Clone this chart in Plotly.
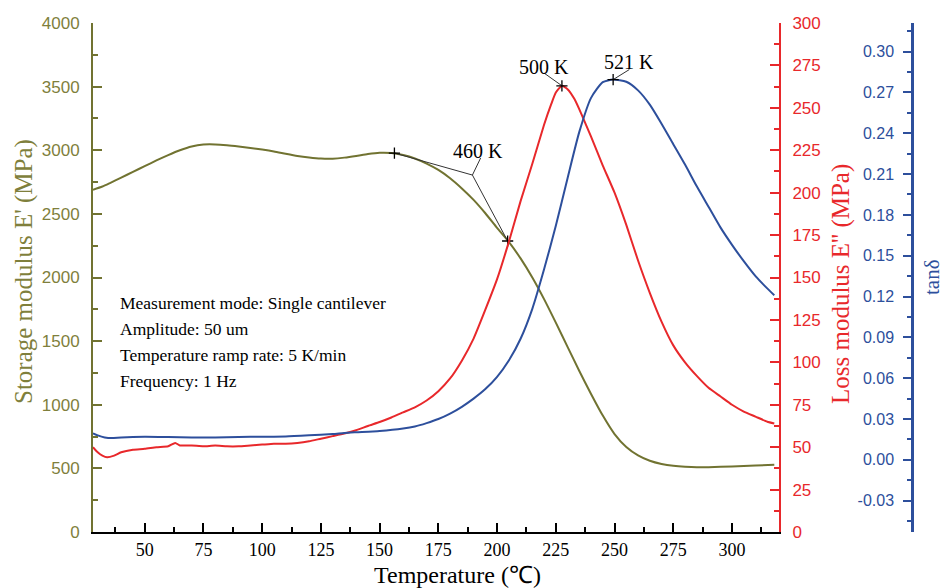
import plotly.graph_objects as go

# ---------------- data ----------------
temp_storage = [28, 32, 35, 40, 45, 50, 55, 60, 65, 70, 75, 80, 85, 90, 95, 100, 105, 110, 115, 120,
                125, 130, 135, 140, 145, 150, 155, 160, 165, 170, 175, 180, 185, 190, 195, 200, 205,
                210, 215, 220, 225, 230, 235, 240, 245, 250, 255, 260, 265, 270, 275, 280, 285, 290,
                300, 310, 318]
storage_mod = [2690, 2715, 2740, 2785, 2830, 2875, 2920, 2962, 3000, 3030, 3045, 3046, 3040, 3030,
               3018, 3005, 2990, 2972, 2955, 2943, 2935, 2934, 2942, 2955, 2970, 2980, 2978, 2962,
               2935, 2895, 2845, 2780, 2700, 2610, 2505, 2390, 2280, 2150, 2000, 1830, 1645, 1455,
               1265, 1085, 915, 770, 668, 602, 560, 535, 520, 512, 508, 509, 515, 523, 528]

temp_loss = [28, 30, 32, 34, 37, 40, 45, 50, 55, 60, 63, 65, 70, 75, 80, 85, 90, 95, 100, 105, 110,
             115, 120, 125, 130, 135, 140, 145, 150, 155, 160, 165, 170, 175, 180, 185, 190, 195,
             200, 205, 210, 215, 220, 223, 225, 227.6, 230, 233, 236, 240, 245, 250, 255, 260, 265,
             270, 275, 280, 285, 290, 295, 300, 305, 310, 315, 318]
loss_mod = [50, 47, 45, 44, 45, 47, 48.5, 49, 50, 50.5, 52.5, 51, 51, 50.5, 51, 50.5, 50.5, 51,
            51.5, 52, 52, 52.5, 53.5, 55, 56.5, 58, 60, 62.5, 64.8, 67.5, 70.5, 73.5, 77.5, 83,
            90.5, 101, 114, 131, 149, 171, 195, 217, 240, 252, 259, 263, 261, 255, 246, 233, 216,
            200, 181, 160, 141, 124, 110, 100, 92, 85, 80, 75, 71, 68, 65, 64]

temp_tan = [28, 30, 33, 36, 40, 50, 60, 70, 80, 90, 100, 110, 120, 130, 135, 140, 150, 160, 165, 170,
            175, 180, 185, 190, 195, 200, 205, 210, 215, 220, 225, 230, 235, 240, 245, 249.4, 255,
            260, 265, 270, 275, 280, 285, 290, 295, 300, 305, 310, 315, 318]
tan_delta = [0.0195, 0.018, 0.0165, 0.016, 0.0165, 0.017, 0.0168, 0.0165, 0.0165, 0.0168, 0.017,
             0.0172, 0.018, 0.019, 0.0198, 0.0203, 0.0212, 0.023, 0.0245, 0.027, 0.030, 0.034,
             0.039, 0.045, 0.052, 0.061, 0.073, 0.089, 0.111, 0.140, 0.172, 0.207, 0.241, 0.266,
             0.2775, 0.2794, 0.2778, 0.2715, 0.261, 0.247, 0.232, 0.217, 0.201, 0.186, 0.171, 0.158,
             0.146, 0.135, 0.126, 0.121]

# marked points
onset_x = [156.3, 204.5]
onset_y = [2978, 2287]
onset_label = "460 K"
onset_label_pos = (191.9, 2994)
onset_junction = (189.5, 2805)
onset_stem = (193.0, 2939)

loss_peak = (227.6, 263)
loss_label = "500 K"
loss_label_pos = (220.0, 274)
loss_stem = (220.0, 270.5)

tan_peak = (249.4, 0.2794)
tan_label = "521 K"
tan_label_pos = (256.3, 0.2926)
tan_stem = (256.3, 0.2868)

info_lines = ["Measurement mode: Single cantilever", "Amplitude: 50 um",
              "Temperature ramp rate: 5 K/min", "Frequency: 1 Hz"]

tan_ticks = [-0.03, 0.00, 0.03, 0.06, 0.09, 0.12, 0.15, 0.18, 0.21, 0.24, 0.27, 0.30]
tan_tick_text = ["-0.03", "0.00", "0.03", "0.06", "0.09", "0.12", "0.15", "0.18", "0.21",
                 "0.24", "0.27", "0.30"]
tan_minor = [-0.045, -0.015, 0.015, 0.045, 0.075, 0.105, 0.135, 0.165, 0.195, 0.225, 0.255,
             0.285, 0.315]

# ---------------- style ----------------
OLIVE = "#717331"
OLIVE_TXT = "#7f7f3c"
RED = "#e8282b"
BLUE = "#2d4f9c"
SERIF = "Liberation Serif"
SANS = "Liberation Sans"

W, H = 943, 588
ML, MR, MT, MB = 93, 5, 23, 56
PW = W - ML - MR
PH = H - MT - MB


def px_to_paper(px, py):
    return (px - ML) / PW, (H - MB - py) / PH


fig = go.Figure()

fig.add_trace(go.Scatter(x=temp_storage, y=storage_mod, mode="lines",
                         line=dict(color=OLIVE, width=2, shape="spline", smoothing=0.6),
                         yaxis="y", showlegend=False))
fig.add_trace(go.Scatter(x=temp_loss, y=loss_mod, mode="lines",
                         line=dict(color=RED, width=2, shape="spline", smoothing=0.5),
                         yaxis="y2", showlegend=False))
fig.add_trace(go.Scatter(x=temp_tan, y=tan_delta, mode="lines",
                         line=dict(color=BLUE, width=2, shape="spline", smoothing=0.6),
                         yaxis="y3", showlegend=False))

# annotation leader lines
LEAD = dict(color="#333333", width=1)
fig.add_trace(go.Scatter(x=[onset_x[0], onset_junction[0], onset_x[1]],
                         y=[onset_y[0], onset_junction[1], onset_y[1]],
                         mode="lines", line=LEAD, yaxis="y", showlegend=False))
fig.add_trace(go.Scatter(x=[onset_stem[0], onset_junction[0]], y=[onset_stem[1], onset_junction[1]],
                         mode="lines", line=LEAD, yaxis="y", showlegend=False))
fig.add_trace(go.Scatter(x=[loss_stem[0], loss_peak[0]], y=[loss_stem[1], loss_peak[1]],
                         mode="lines", line=LEAD, yaxis="y2", showlegend=False))
fig.add_trace(go.Scatter(x=[tan_stem[0], tan_peak[0]], y=[tan_stem[1], tan_peak[1]],
                         mode="lines", line=LEAD, yaxis="y3", showlegend=False))

cross = dict(symbol="cross-thin", size=8, line=dict(color="black", width=1.3))
fig.add_trace(go.Scatter(x=onset_x, y=onset_y, mode="markers", marker=cross, yaxis="y",
                         showlegend=False))
fig.add_trace(go.Scatter(x=[loss_peak[0]], y=[loss_peak[1]], mode="markers", marker=cross,
                         yaxis="y2", showlegend=False))
fig.add_trace(go.Scatter(x=[tan_peak[0]], y=[tan_peak[1]], mode="markers", marker=cross,
                         yaxis="y3", showlegend=False))

annotations = []
annotations.append(dict(x=onset_label_pos[0], y=onset_label_pos[1], xref="x", yref="y",
                        text=onset_label, showarrow=False,
                        font=dict(family=SERIF, size=20, color="black")))
annotations.append(dict(x=loss_label_pos[0], y=loss_label_pos[1], xref="x", yref="y2",
                        text=loss_label, showarrow=False,
                        font=dict(family=SERIF, size=20, color="black")))
annotations.append(dict(x=tan_label_pos[0], y=tan_label_pos[1], xref="x", yref="y3",
                        text=tan_label, showarrow=False,
                        font=dict(family=SERIF, size=20, color="black")))

info_y = [303, 329, 355, 381]
for txt, py in zip(info_lines, info_y):
    xp, yp = px_to_paper(118, py)
    annotations.append(dict(x=xp, y=yp, xref="paper", yref="paper", text=txt, showarrow=False,
                            xanchor="left", yanchor="middle",
                            font=dict(family=SERIF, size=17.5, color="black")))

# axis titles
xp, yp = px_to_paper(24, 272)
annotations.append(dict(x=xp, y=yp, xref="paper", yref="paper", text="Storage modulus E' (MPa)",
                        textangle=-90, showarrow=False, xanchor="center", yanchor="middle",
                        font=dict(family=SERIF, size=25, color=OLIVE_TXT)))
xp, yp = px_to_paper(841, 284)
annotations.append(dict(x=xp, y=yp, xref="paper", yref="paper", text="Loss modulus E'' (MPa)",
                        textangle=-90, showarrow=False, xanchor="center", yanchor="middle",
                        font=dict(family=SERIF, size=25, color=RED)))
xp, yp = px_to_paper(932, 277)
annotations.append(dict(x=xp, y=yp, xref="paper", yref="paper", text="tanδ",
                        textangle=-90, showarrow=False, xanchor="center", yanchor="middle",
                        font=dict(family=SERIF, size=21, color=BLUE)))
xp, yp = px_to_paper(457, 575)
annotations.append(dict(x=xp, y=yp, xref="paper", yref="paper", text="Temperature (℃)",
                        showarrow=False, xanchor="center", yanchor="middle",
                        font=dict(family=SERIF, size=24, color="black")))

x_end = (779 - ML) / PW
blue_pos = (912 - ML) / PW

fig.update_layout(
    width=W, height=H,
    margin=dict(l=ML, r=MR, t=MT, b=MB, pad=0),
    paper_bgcolor="white", plot_bgcolor="white",
    showlegend=False,
    annotations=annotations,
    xaxis=dict(domain=[0, x_end], range=[28, 320], showline=True, linecolor="black", linewidth=2,
               ticks="inside", ticklen=9, tickwidth=1.5, tickcolor="black",
               tick0=0, dtick=25,
               minor=dict(ticks="inside", ticklen=5, tickwidth=1.5, tickcolor="black", dtick=12.5,
                          tick0=0),
               tickfont=dict(family=SERIF, size=18, color="black"), ticklabelstandoff=0,
               showgrid=False, zeroline=False),
    yaxis=dict(range=[0, 4000], showline=True, linecolor=OLIVE, linewidth=2,
               ticks="inside", ticklen=9, tickwidth=2, tickcolor=OLIVE, tick0=0, dtick=500,
               minor=dict(ticks="inside", ticklen=5, tickwidth=2, tickcolor=OLIVE, dtick=250,
                          tick0=0),
               tickfont=dict(family=SANS, size=17, color=OLIVE_TXT), ticklabelstandoff=8,
               showgrid=False, zeroline=False),
    yaxis2=dict(range=[0, 300], overlaying="y", side="right", anchor="x", showline=True,
                linecolor=RED, linewidth=2, ticks="inside", ticklen=9, tickwidth=2, tickcolor=RED,
                tick0=0, dtick=25,
                minor=dict(ticks="inside", ticklen=5, tickwidth=2, tickcolor=RED, dtick=12.5,
                           tick0=0),
                tickfont=dict(family=SANS, size=17, color=RED), ticklabelstandoff=8,
                showgrid=False, zeroline=False),
    yaxis3=dict(range=[-0.053, 0.321], overlaying="y", side="left", anchor="free",
                position=blue_pos, showline=True, linecolor=BLUE, linewidth=2.5,
                ticks="outside", ticklen=8, tickwidth=2, tickcolor=BLUE,
                tickmode="array", tickvals=tan_ticks, ticktext=tan_tick_text,
                minor=dict(ticks="outside", ticklen=4, tickwidth=2, tickcolor=BLUE,
                           tickmode="array", tickvals=tan_minor),
                tickfont=dict(family=SANS, size=16, color=BLUE), ticklabelstandoff=6,
                showgrid=False, zeroline=False),
)

fig.write_html("out.html")
